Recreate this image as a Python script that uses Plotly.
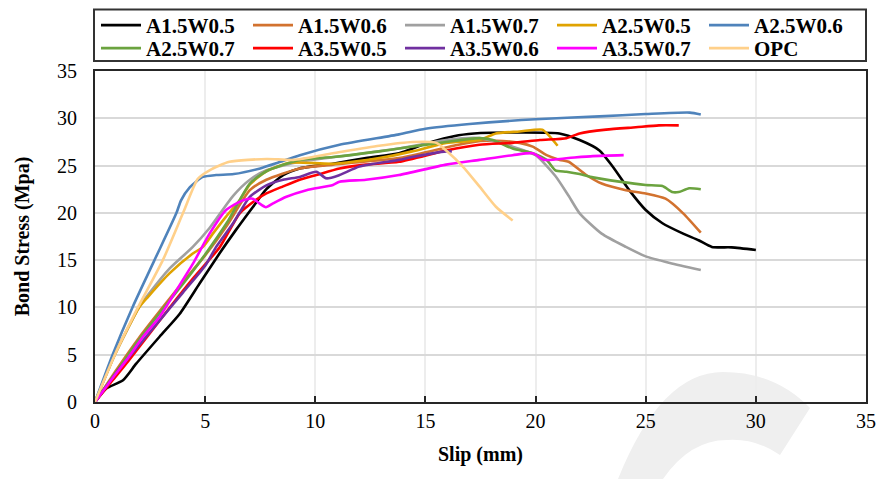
import plotly.graph_objects as go

# ---------------- data ----------------
series_names = ["A1.5W0.5", "A1.5W0.6", "A1.5W0.7", "A2.5W0.5", "A2.5W0.6",
                "A2.5W0.7", "A3.5W0.5", "A3.5W0.6", "A3.5W0.7", "OPC"]
series_colors = ["#000000", "#D2722F", "#A0A0A0", "#E0A300", "#4F83BB",
                 "#6BA33F", "#FF0000", "#7030A0", "#FF00FF", "#FFD08A"]

a15w05_slip = [0, 0.5, 1.27, 1.87, 2.93, 3.84, 4.74, 5.65, 6.4, 7.16, 7.78, 8.54, 9.29, 10.8, 12.3, 13.8,
               15.0, 16.5, 17.5, 19.27, 21.08, 22.0, 22.9, 23.5, 24.25, 25.0, 25.76, 26.7, 27.4, 28.0, 28.9, 30.0]
a15w05_stress = [0, 1.4, 2.3, 4.05, 6.9, 9.3, 12.5, 15.7, 18.2, 20.6, 22.5, 24.0, 24.7, 25.2, 25.8, 26.3,
                 27.3, 28.2, 28.45, 28.5, 28.4, 27.7, 26.6, 24.9, 22.4, 20.3, 18.9, 17.8, 17.1, 16.4, 16.35, 16.07]

a15w06_slip = [0, 1, 2, 3, 4, 5, 6, 7.03, 7.78, 9.29, 10.8, 13.8, 15.0, 16.5, 17.5, 18.5, 19.27, 19.87,
               20.5, 21.1, 21.5, 22.3, 23.0, 24.1, 25.0, 25.9, 26.7, 27.5]
a15w06_stress = [0, 3.5, 6.8, 9.8, 12.7, 15.5, 18.7, 22.4, 23.5, 24.7, 25.1, 25.8, 26.4, 27.2, 27.6, 27.6,
                 27.4, 27.0, 26.1, 25.6, 25.4, 24.0, 23.1, 22.4, 22.05, 21.5, 19.95, 17.9]

a15w07_slip = [0, 0.9, 2.0, 2.4, 3.38, 4.44, 5.2, 6.27, 7.03, 7.78, 9.29, 11.56, 13.8, 15.94, 17.45,
               18.96, 20.0, 20.9, 21.5, 22.0, 23.0, 24.1, 25.0, 26.1, 27.5]
a15w07_stress = [0, 5, 10, 11.3, 14.1, 16.4, 18.4, 21.8, 23.5, 24.5, 25.4, 26.1, 26.8, 27.7, 27.9,
                 27.0, 26.1, 23.9, 21.8, 19.95, 17.8, 16.4, 15.4, 14.7, 13.96]

a25w05_slip = [0, 0.9, 2.0, 2.4, 3.38, 4.44, 4.9, 5.35, 5.95, 6.56, 7.03, 7.78, 8.84, 10.8, 12.9, 14.4,
               15.94, 17.45, 18.2, 19.27, 20.3, 20.6, 21.0]
a25w05_stress = [0, 5, 10, 11.1, 13.6, 15.7, 16.4, 17.8, 19.6, 21.3, 23.0, 24.4, 25.3, 25.2, 25.8, 26.5,
                 27.4, 27.7, 28.4, 28.6, 28.8, 28.2, 27.1]

a25w06_slip = [0, 0.8, 1.7, 2.7, 3.7, 3.9, 4.3, 4.9, 5.5, 6.3, 7.5, 8.3, 9.3, 11.1, 13.8, 15.0, 17.0,
               20.0, 22.9, 25.0, 27.0, 27.5]
a25w06_stress = [0, 5, 10, 15, 20, 21.3, 22.7, 23.8, 24.0, 24.1, 24.7, 25.3, 26.1, 27.2, 28.3, 28.9, 29.4,
                 29.9, 30.2, 30.45, 30.6, 30.4]

a25w07_slip = [0, 1, 2, 3, 4, 5, 6, 7.03, 7.78, 9.29, 10.8, 12.9, 13.8, 15.94, 17.45, 18.06, 18.96, 19.87,
               20.5, 20.9, 21.4, 22.0, 22.6, 23.8, 25.0, 25.76, 26.2, 26.5, 26.97, 27.5]
a25w07_stress = [0, 3.3, 6.6, 9.6, 12.5, 15.6, 19.0, 23.1, 24.4, 25.6, 25.9, 26.5, 26.8, 27.5, 27.9, 27.7,
                 26.8, 26.3, 25.6, 24.5, 24.35, 24.1, 23.75, 23.3, 22.95, 22.84, 22.2, 22.2, 22.6, 22.5]

a35w05_slip = [0, 0.8, 1.5, 2.5, 3.5, 4.5, 5.67, 6.57, 7.33, 7.78, 8.54, 9.29, 10.05, 11.1, 12.3, 13.8,
               15.94, 17.45, 18.96, 20.2, 21.4, 22.0, 23.2, 24.55, 25.6, 26.5]
a35w05_stress = [0, 2.3, 4.3, 7.3, 10.3, 13.2, 16.4, 19.95, 21.4, 22.05, 22.8, 23.5, 24.0, 24.7, 25.1, 25.4,
                 26.6, 27.2, 27.4, 27.7, 27.9, 28.4, 28.8, 29.05, 29.25, 29.25]

a35w06_slip = [0, 1, 2, 3, 4, 5, 5.5, 6.27, 7.03, 7.78, 8.54, 9.29, 10.05, 10.5, 11.1, 12.0, 13.8, 14.4,
               15.94, 16.2]
a35w06_stress = [0, 3.2, 6.0, 8.8, 11.6, 14.4, 16.4, 18.9, 21.7, 22.9, 23.5, 23.8, 24.35, 23.65, 24.0,
                 24.9, 25.6, 25.9, 26.5, 26.5]

a35w07_slip = [0, 0.82, 1.42, 2.18, 2.93, 3.69, 4.44, 5.2, 5.95, 6.7, 7.16, 7.46, 7.76, 8.08, 8.69, 9.6,
               10.8, 11.1, 12.3, 13.8, 15.94, 17.45, 18.96, 19.87, 20.4, 21.5, 22.6, 24.0]
a35w07_stress = [0, 2.6, 4.4, 6.9, 9.0, 11.8, 14.6, 17.8, 20.3, 21.3, 21.5, 21.0, 20.6, 21.0, 21.7, 22.4,
                 22.95, 23.3, 23.5, 24.0, 25.1, 25.6, 26.1, 26.3, 25.6, 25.8, 26.0, 26.1]

opc_slip = [0, 0.9, 1.95, 3.08, 4.0, 4.67, 5.2, 6.1, 7.8, 9.0, 10.8, 12.9, 14.4, 15.5, 15.94, 16.7,
            17.45, 18.2, 18.96]
opc_stress = [0, 5, 10, 15, 20, 23.6, 24.5, 25.4, 25.7, 25.6, 26.3, 27.1, 27.5, 27.4, 26.6, 24.9,
              22.8, 20.65, 19.2]

x_ticks = [0, 5, 10, 15, 20, 25, 30, 35]
y_ticks = [0, 5, 10, 15, 20, 25, 30, 35]

all_slip = [a15w05_slip, a15w06_slip, a15w07_slip, a25w05_slip, a25w06_slip,
            a25w07_slip, a35w05_slip, a35w06_slip, a35w07_slip, opc_slip]
all_stress = [a15w05_stress, a15w06_stress, a15w07_stress, a25w05_stress, a25w06_stress,
              a25w07_stress, a35w05_stress, a35w06_stress, a35w07_stress, opc_stress]

# ---------------- figure ----------------
W, H = 877, 479
ML, MR, MT, MB = 95, 11, 71, 77
FONT = "Liberation Serif"

fig = go.Figure()
for i, (nm, col, xs, ys) in enumerate(zip(series_names, series_colors, all_slip, all_stress)):
    fig.add_trace(go.Scatter(x=xs, y=ys, name=nm, mode="lines",
                             legend="legend" if i < 5 else "legend2",
                             line=dict(color=col, width=2.6, shape="spline", smoothing=0.6)))

pw, ph = W - ML - MR, H - MT - MB


def P(px, py):
    return (px - ML) / pw, (H - MB - py) / ph


pts = [P(618, 479), P(661, 372), P(723, 372), P(775, 372), P(810, 408), P(780, 455),
       P(755, 438), P(727, 440), P(690, 440), P(663, 479)]
path = ("M{0[0]},{0[1]} Q{1[0]},{1[1]} {2[0]},{2[1]} Q{3[0]},{3[1]} {4[0]},{4[1]} "
        "L{5[0]},{5[1]} Q{6[0]},{6[1]} {7[0]},{7[1]} Q{8[0]},{8[1]} {9[0]},{9[1]} Z").format(*pts)

bx0, by0 = P(94, 61)
bx1, by1 = P(866, 9.5)

leg_common = dict(orientation="h", xanchor="left", yanchor="top",
                  borderwidth=0, bgcolor="rgba(0,0,0,0)",
                  font=dict(family=FONT, size=21, color="black", weight="bold"),
                  entrywidth=97, entrywidthmode="pixels", itemwidth=40,
                  tracegroupgap=0, traceorder="normal")

fig.update_layout(
    width=W, height=H,
    margin=dict(l=ML, r=MR, t=MT, b=MB, pad=0, autoexpand=False),
    paper_bgcolor="white", plot_bgcolor="rgba(0,0,0,0)",
    font=dict(family=FONT, color="black", size=20),
    shapes=[dict(type="path", xref="paper", yref="paper", path=path,
                 fillcolor="#efefef", line=dict(width=0), layer="below"),
            dict(type="rect", xref="paper", yref="paper", x0=bx0, y0=by0, x1=bx1, y1=by1,
                 line=dict(color="#333333", width=2), fillcolor="rgba(0,0,0,0)", layer="above")],
    legend=dict(x=P(96, 0)[0], y=P(0, 5)[1], **leg_common),
    legend2=dict(x=P(96, 0)[0], y=P(0, 28)[1], **leg_common),
    xaxis=dict(range=[0, 35], tickvals=x_ticks, ticktext=[str(v) for v in x_ticks],
               showgrid=True, gridcolor="#ededed", gridwidth=1.5, zeroline=False,
               showline=True, linecolor="#262626", linewidth=2, mirror=True,
               ticks="inside", ticklen=6, tickwidth=1.5, tickcolor="#262626",
               tickfont=dict(family=FONT, size=20, color="black"),
               title=dict(text="<b>Slip (mm)</b>", font=dict(family=FONT, size=20, color="black"),
                          standoff=16)),
    yaxis=dict(range=[0, 35], tickvals=y_ticks, ticktext=[str(v) for v in y_ticks],
               showgrid=True, gridcolor="#d9d9d9", gridwidth=1.5, zeroline=False,
               showline=True, linecolor="#262626", linewidth=2, mirror=True,
               ticks="", ticklabelstandoff=12,
               tickfont=dict(family=FONT, size=20, color="black"),
               title=dict(text="<b>Bond Stress (Mpa)</b>", font=dict(family=FONT, size=20, color="black"),
                          standoff=22)),
)

fig.write_html("out.html")
